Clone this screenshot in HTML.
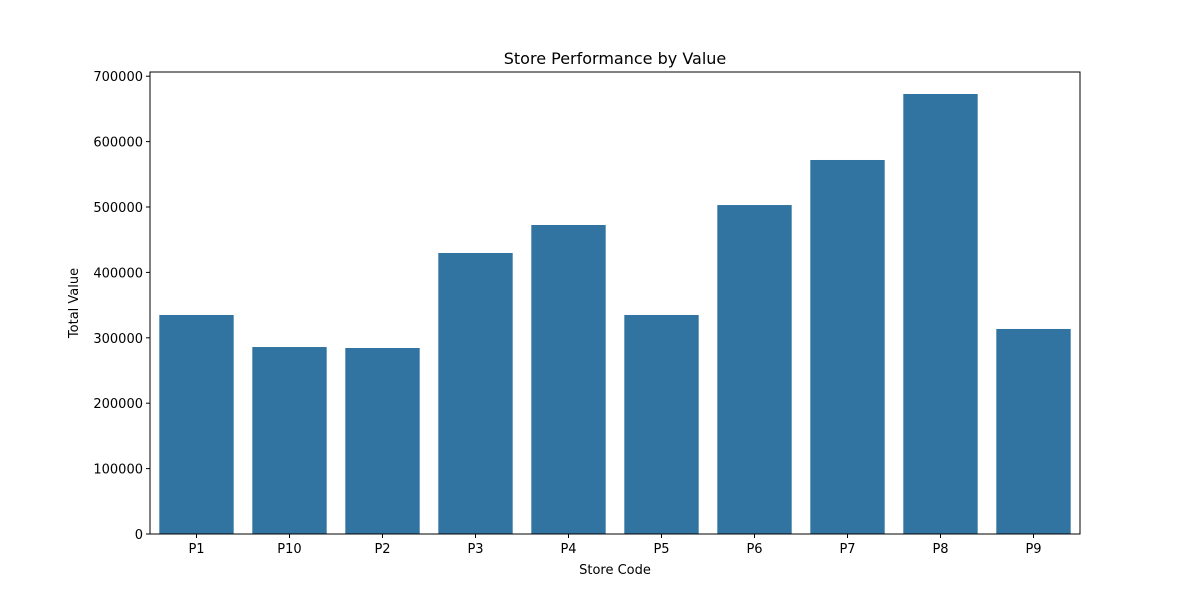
<!DOCTYPE html>
<html><head><meta charset="utf-8"><style>
html,body{margin:0;padding:0;background:#fff;}
svg text{font-family:"DejaVu Sans","Liberation Sans",sans-serif;}
</style></head><body>
<svg id="chart" width="1200" height="600" xmlns="http://www.w3.org/2000/svg">
<rect width="1200" height="600" fill="#fff"/>
<text x="615" y="64" text-anchor="middle" font-size="16" fill="#000">Store Performance by Value</text>
<g id="bars"></g>
<g id="yticks"></g>
<g id="xticks"></g>
<rect x="150" y="72" width="930" height="462" fill="none" stroke="#000" stroke-width="1"/>
<text x="615" y="574" text-anchor="middle" font-size="13">Store Code</text>
<text transform="translate(78,303) rotate(-90)" text-anchor="middle" font-size="13">Total Value</text>
</svg>
<script>
const categories = ["P1","P10","P2","P3","P4","P5","P6","P7","P8","P9"];
const values = [334900,285900,284400,429700,472500,334900,503000,571900,672800,313500];
const yTicks = [0,100000,200000,300000,400000,500000,600000,700000];

const L=150,R=1080,T=72,B=534;
const yMax=Math.max(...values)*1.05;
const y=v=>B-(v/yMax)*(B-T);
const band=(R-L)/categories.length;
const x=i=>L+band*i+band/2;
const NS="http://www.w3.org/2000/svg";
function mk(tag,attrs,parent){const e=document.createElementNS(NS,tag);for(const k in attrs)e.setAttribute(k,attrs[k]);parent.appendChild(e);return e;}
const gb=document.getElementById('bars'),gy=document.getElementById('yticks'),gx=document.getElementById('xticks');
categories.forEach((c,i)=>{
  const w=band*0.8;
  const r=mk('rect',{x:x(i)-w/2,y:y(values[i]),width:w,height:B-y(values[i]),fill:'#3274a1'},gb);
  
  
  const t=mk('line',{x1:x(i),x2:x(i),y1:B,y2:B+4,stroke:'#000'},gx);
  
  
  const lb=mk('text',{x:x(i),y:B+19,'text-anchor':'middle','font-size':'13'},gx);
  lb.textContent=c;
  
  
});
yTicks.forEach(v=>{
  const t=mk('line',{x1:L-4,x2:L,y1:y(v),y2:y(v),stroke:'#000'},gy);
  
  
  const lb=mk('text',{x:L-7,y:y(v)+5,'text-anchor':'end','font-size':'13'},gy);
  lb.textContent=String(v);
  
  
});
</script>
</body></html>
